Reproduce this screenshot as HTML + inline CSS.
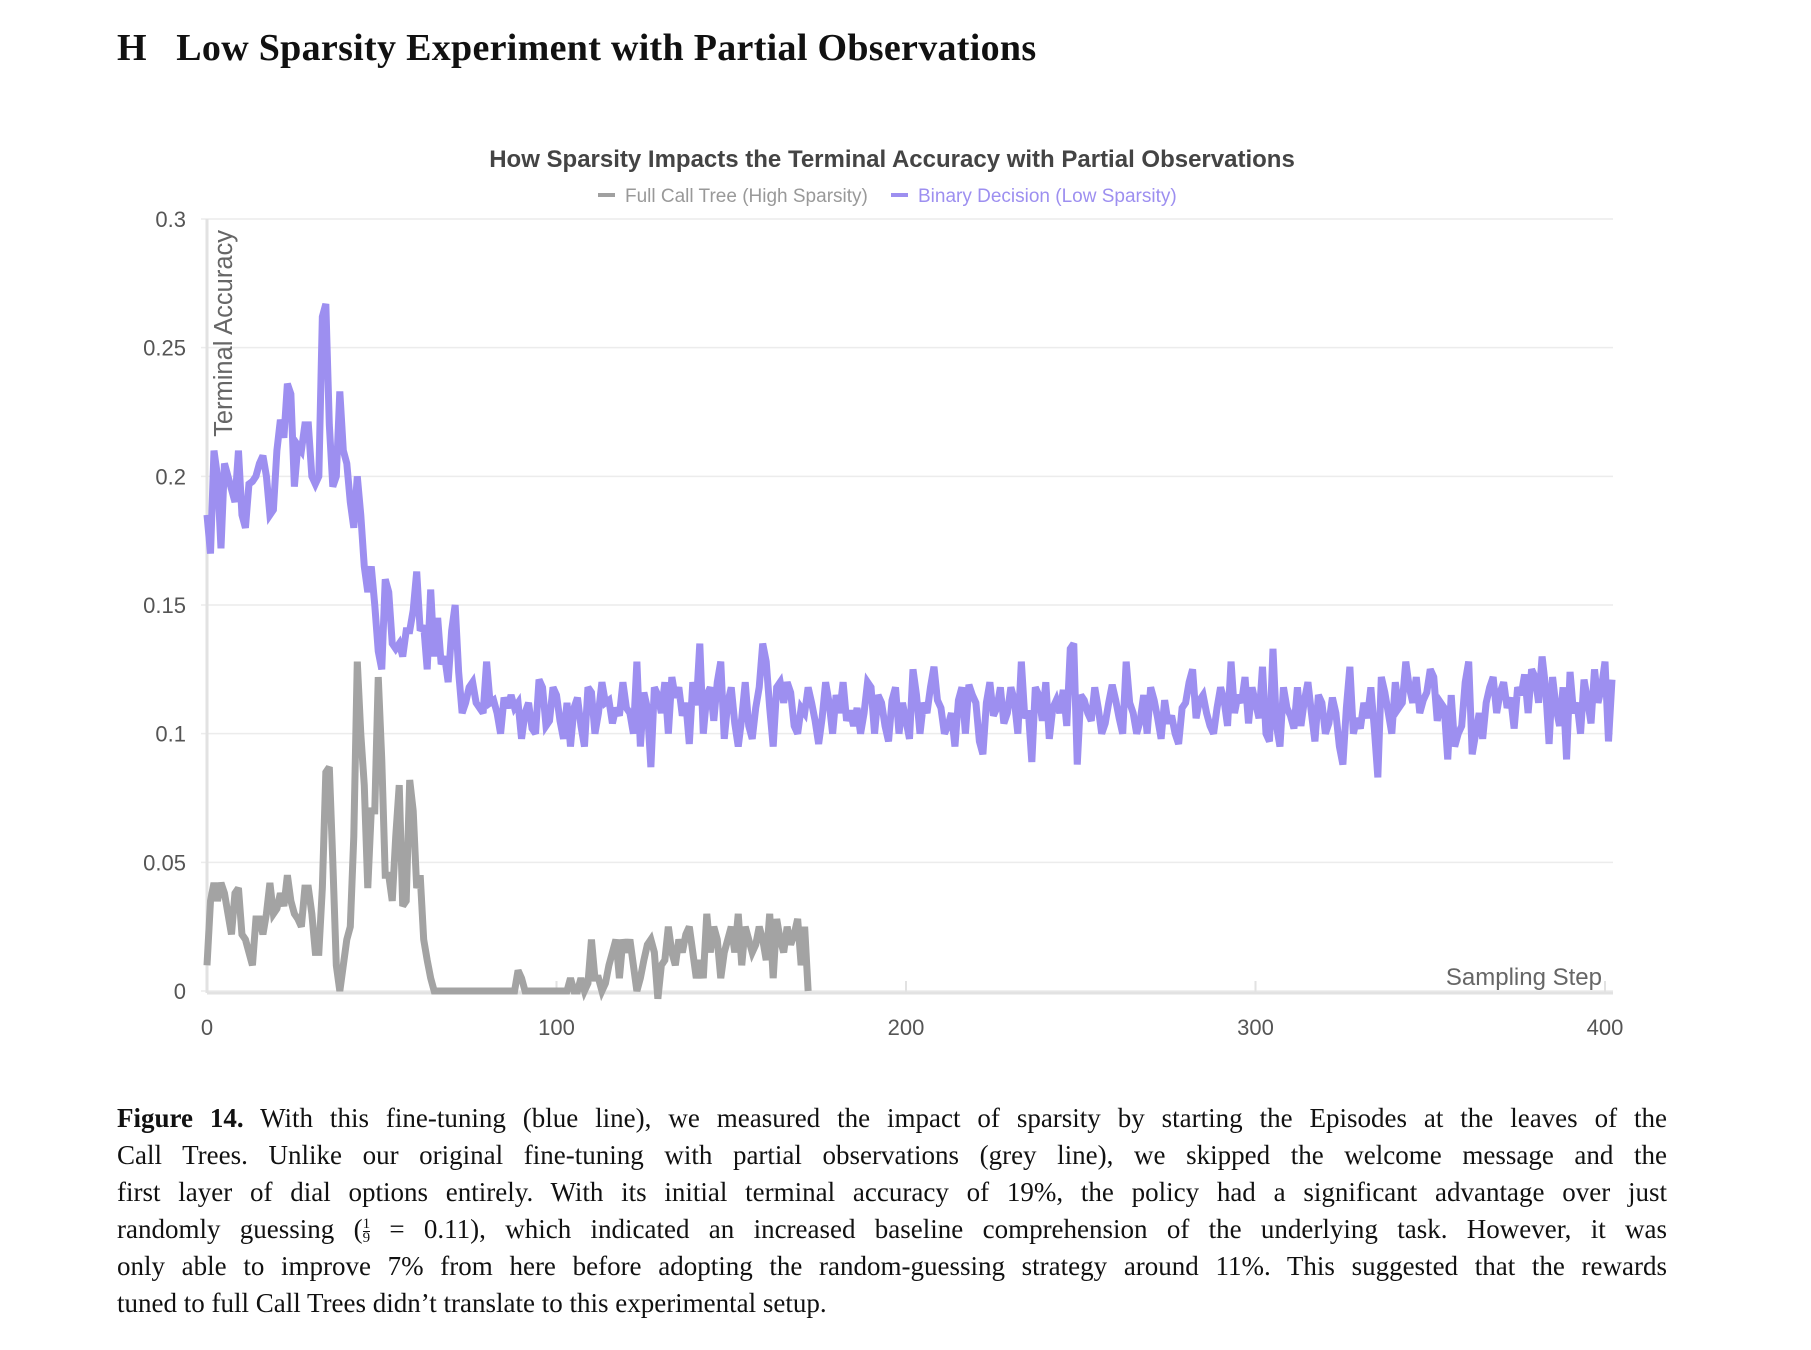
<!DOCTYPE html>
<html><head><meta charset="utf-8"><style>
html,body{margin:0;padding:0;background:#fff;}
body{width:1811px;height:1350px;position:relative;overflow:hidden;}
#heading{position:absolute;left:117px;top:26px;font-family:"Liberation Serif",serif;font-weight:bold;font-size:38px;letter-spacing:0.3px;color:#111;white-space:nowrap;}
#caption{position:absolute;left:117px;top:1100px;width:1550px;font-family:"Liberation Serif",serif;font-size:27px;color:#111;}
.cl{height:37px;line-height:37px;text-align:justify;text-align-last:justify;white-space:nowrap;}
.cl.last{text-align-last:left;}
.frac{display:inline-block;vertical-align:middle;font-size:15px;line-height:13px;text-align:center;}
svg{position:absolute;left:0;top:0;}
</style></head><body>
<div id="heading">H&nbsp;&nbsp;&nbsp;Low Sparsity Experiment with Partial Observations</div>
<svg id="chart" width="1811" height="1080" font-family="Liberation Sans, sans-serif"></svg>
<div id="caption">
<div class="cl" style="white-space:normal"><b>Figure 14.</b> With this fine-tuning (blue line), we measured the impact of sparsity by starting the Episodes at the leaves of the</div>
<div class="cl" style="white-space:normal">Call Trees. Unlike our original fine-tuning with partial observations (grey line), we skipped the welcome message and the</div>
<div class="cl" style="white-space:normal">first layer of dial options entirely. With its initial terminal accuracy of 19%, the policy had a significant advantage over just</div>
<div class="cl" style="white-space:normal">randomly guessing (<span class="frac"><span style="display:block;border-bottom:1px solid #111">1</span><span style="display:block">9</span></span> = 0.11), which indicated an increased baseline comprehension of the underlying task. However, it was</div>
<div class="cl" style="white-space:normal">only able to improve 7% from here before adopting the random-guessing strategy around 11%. This suggested that the rewards</div>
<div class="cl last">tuned to full Call Trees didn’t translate to this experimental setup.</div>
</div>
<script>
const yTicks=[0,0.05,0.1,0.15,0.2,0.25,0.3];
const yTickLabels=["0","0.05","0.1","0.15","0.2","0.25","0.3"];
const xTicks=[0,100,200,300,400];
const xTickLabels=["0","100","200","300","400"];
const seriesNames=["Full Call Tree (High Sparsity)","Binary Decision (Low Sparsity)"];
const binaryDecision=[0.185,0.17,0.21,0.2,0.172,0.205,0.2,0.195,0.19,0.21,0.185,0.18,0.197,0.198,0.2,0.205,0.208,0.2,0.185,0.187,0.21,0.222,0.215,0.236,0.232,0.196,0.212,0.21,0.22,0.22,0.2,0.197,0.2,0.262,0.267,0.22,0.196,0.2,0.233,0.21,0.205,0.19,0.18,0.2,0.185,0.165,0.155,0.165,0.15,0.132,0.125,0.16,0.155,0.135,0.133,0.135,0.13,0.14,0.14,0.148,0.163,0.14,0.142,0.125,0.156,0.13,0.145,0.127,0.13,0.12,0.14,0.15,0.124,0.108,0.112,0.118,0.12,0.112,0.11,0.108,0.128,0.112,0.113,0.108,0.1,0.114,0.11,0.115,0.11,0.112,0.098,0.108,0.112,0.102,0.1,0.121,0.118,0.103,0.105,0.118,
0.115,0.105,0.098,0.112,0.095,0.11,0.114,0.103,0.095,0.118,0.116,0.1,0.108,0.12,0.112,0.113,0.104,0.11,0.107,0.12,0.11,0.108,0.1,0.128,0.095,0.116,0.11,0.087,0.118,0.115,0.108,0.12,0.1,0.122,0.114,0.118,0.107,0.112,0.096,0.12,0.111,0.135,0.1,0.115,0.118,0.105,0.12,0.128,0.098,0.112,0.118,0.104,0.095,0.106,0.12,0.103,0.098,0.11,0.118,0.135,0.128,0.11,0.095,0.118,0.12,0.112,0.12,0.116,0.103,0.1,0.11,0.108,0.118,0.112,0.105,0.096,0.106,0.12,0.112,0.1,0.115,0.108,0.12,0.105,0.109,0.103,0.11,0.1,0.108,0.12,0.118,0.1,0.115,0.112,0.103,0.097,0.113,0.118,0.1,0.112,0.105,0.098,0.125,0.115,0.1,0.112,0.108,0.118,0.126,0.113,0.11,0.1,0.103,0.108,0.095,0.113,0.118,0.1,0.119,0.115,0.112,0.097,0.092,0.112,0.12,0.107,0.11,0.118,0.104,0.108,0.118,0.113,0.1,0.128,0.106,0.109,0.089,0.118,0.115,0.105,0.12,0.098,0.11,0.113,0.108,0.117,0.103,0.133,0.135,0.088,0.115,0.113,0.108,0.105,0.118,0.11,0.1,0.104,0.112,0.119,0.113,0.106,0.1,0.128,0.112,0.108,0.1,0.105,0.115,0.1,0.118,0.113,0.106,0.098,0.113,0.104,0.107,0.1,0.096,0.11,0.112,0.12,0.125,0.106,0.113,0.115,0.108,0.103,0.1,0.11,0.118,0.113,0.103,0.128,0.108,0.115,0.112,0.122,0.104,0.118,0.112,0.106,0.126,0.1,0.097,0.133,0.103,0.095,0.118,0.11,0.107,0.102,0.118,0.103,0.113,0.12,0.108,0.097,0.115,0.112,0.1,0.104,0.114,0.108,0.095,0.088,0.11,0.126,0.1,0.106,0.102,0.112,0.106,0.118,0.102,0.083,0.122,0.116,0.108,0.1,0.12,0.11,0.112,0.128,0.118,0.112,0.122,0.108,0.113,0.116,0.125,0.122,0.105,0.112,0.11,0.09,0.115,0.095,0.1,0.103,0.12,0.128,0.092,0.1,0.108,0.098,0.112,0.118,0.122,0.108,0.116,0.12,0.11,0.114,0.102,0.118,0.115,0.123,0.108,0.125,0.122,0.112,0.13,0.118,0.096,0.122,
0.11,0.103,0.118,0.09,0.124,0.108,0.112,0.1,0.121,0.113,0.104,0.125,0.112,0.118,0.128,0.097,0.121];
const fullCallTree=[0.01,0.035,0.042,0.035,0.042,0.038,0.03,0.022,0.038,0.04,0.022,0.02,0.015,0.01,0.028,0.028,0.022,0.03,0.042,0.03,0.032,0.038,0.033,0.045,0.035,0.03,0.028,0.025,0.04,0.04,0.03,0.015,0.015,0.04,0.085,0.087,0.05,0.01,0,0.01,0.02,0.025,0.06,0.128,0.1,0.08,0.04,0.07,0.07,0.122,0.09,0.045,0.045,0.035,0.06,0.08,0.033,0.035,0.082,0.07,0.04,0.045,0.02,0.012,0.005,0,0,0,0,0,0,0,0,0,0,0,0,0,0,0,0,0,0,0,0,0,0,0,0,0.008,0.005,0,0,0,0,0,0,0,0,0,0,0,0,0,0.005,0,0,0.005,0,0.003,0.02,0.005,0.005,0,0.003,0.01,0.015,0.02,0.005,0.02,0.015,0.02,0.01,0,0.005,0.012,0.018,0.02,0.015,-0.003,0.01,0.012,0.025,0.015,0.01,0.02,0.015,0.022,0.025,0.015,0.005,0.012,0.005,0.03,0.015,0.025,0.02,0.005,0.015,0.02,0.025,0.015,0.03,0.01,0.025,0.02,0.015,0.018,0.025,0.02,0.012,0.03,0.005,0.028,0.02,0.015,0.025,0.018,0.022,0.028,0.01,0.025,0];
const svg=document.getElementById('chart');
const NS='http://www.w3.org/2000/svg';
const X0=207,X1=1605,Y0=991,Y1=219;
const xs=v=>X0+(v-0)/(400-0)*(X1-X0);
const ys=v=>Y0-(v-0)/(0.3-0)*(Y0-Y1);
function mk(tag,attrs,parent){const e=document.createElementNS(NS,tag);for(const k in attrs)e.setAttribute(k,attrs[k]);(parent||svg).appendChild(e);return e;}
let t=mk('text',{x:892,y:167,'text-anchor':'middle','font-size':24,'font-weight':'bold',fill:'#444'});t.textContent='How Sparsity Impacts the Terminal Accuracy with Partial Observations';


const legColors=['#a0a0a0','#9d8ff0'];
const legX=[598,891];
seriesNames.forEach((n,i)=>{
 const g=mk('g',{});
 
 
 mk('line',{x1:legX[i],x2:legX[i]+17,y1:195,y2:195,stroke:legColors[i],'stroke-width':4},g);
 const tx=mk('text',{x:legX[i]+27,y:202,'font-size':19,fill:i===0?'#999':'#9d8ff0'},g);tx.textContent=n;
});
yTicks.forEach((v,i)=>{
 const l=mk('line',{x1:xs(0)-6,x2:1613,y1:ys(v),y2:ys(v),stroke:'#ececec','stroke-width':1.5});
 
 
 const tx=mk('text',{x:186,y:ys(v)+8,'text-anchor':'end','font-size':22,fill:'#555'});tx.textContent=yTickLabels[i];
 
 
});
mk('line',{x1:X0,x2:X0,y1:Y1,y2:Y0+2,stroke:'#e2e2e2','stroke-width':3});
mk('line',{x1:X0,x2:1613,y1:Y0+2,y2:Y0+2,stroke:'#e2e2e2','stroke-width':3});
xTicks.forEach((v,i)=>{
 mk('line',{x1:xs(v),x2:xs(v),y1:Y0-10,y2:Y0+2,stroke:'#e2e2e2','stroke-width':2});
 const tx=mk('text',{x:xs(v),y:1035,'text-anchor':'middle','font-size':22,fill:'#555'});tx.textContent=xTickLabels[i];
 
 
});
let at=mk('text',{x:1602,y:985,'text-anchor':'end','font-size':24,fill:'#666'});at.textContent='Sampling Step';


at=mk('text',{transform:'translate(232,230) rotate(-90)','text-anchor':'end','font-size':25.5,fill:'#666'});at.textContent='Terminal Accuracy';


function line(data,color,name){
 const d=data.map((v,i)=>(i?'L':'M')+xs(i).toFixed(2)+','+ys(v).toFixed(2)).join('');
 const p=mk('path',{d:d,fill:'none',stroke:color,'stroke-width':7,'stroke-linejoin':'miter','stroke-miterlimit':3});
 
 
}
line(fullCallTree,'#a3a3a3','full-call-tree-line');
line(binaryDecision,'#9d8ff0','binary-decision-line');
</script>
</body></html>
